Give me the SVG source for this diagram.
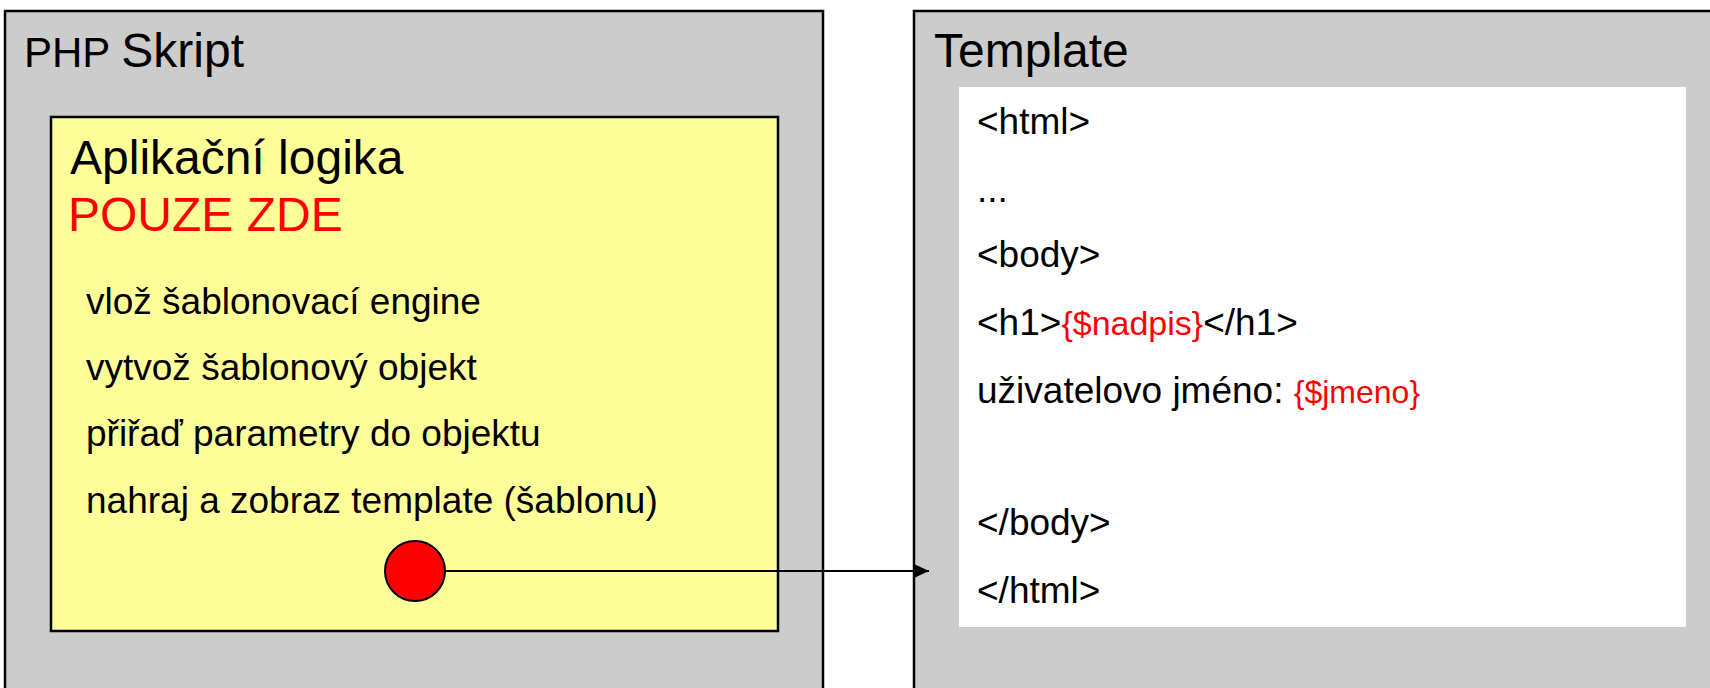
<svg xmlns="http://www.w3.org/2000/svg" width="1710" height="688" viewBox="0 0 1710 688">
<style>
text{font-family:"Liberation Sans",Arial,sans-serif;fill:#000}
.panel{fill:#CCCCCC;stroke:#000;stroke-width:2.5}
.t48{font-size:48px}
.b37{font-size:37px}
.red{fill:#FF0000}
.conn{stroke:#000;stroke-width:2;fill:none}
</style>
<defs>
<marker id="arr" markerUnits="userSpaceOnUse" markerWidth="16" markerHeight="16" refX="15" refY="7" orient="auto">
<path d="M0,0 L15,7 L0,14 Z" fill="#000"/>
</marker>
</defs>
<rect width="1710" height="688" fill="#FFFFFF"/>
<g id="php-skript">
<rect class="panel" x="5" y="11" width="818" height="720"/>
<text x="24" y="67"><tspan font-size="42">PHP </tspan><tspan font-size="48">Skript</tspan></text>
</g>
<g id="aplikacni-logika">
<rect x="51" y="117" width="727" height="514" fill="#FFFF99" stroke="#000" stroke-width="2.5"/>
<text class="t48" x="70" y="174">Aplikační logika</text>
<text class="t48 red" x="68" y="231">POUZE ZDE</text>
<text class="b37" x="86" y="314">vlož šablonovací engine</text>
<text class="b37" x="86" y="380">vytvož šablonový objekt</text>
<text class="b37" x="86" y="446">přiřaď parametry do objektu</text>
<text class="b37" x="86" y="513">nahraj a zobraz template (šablonu)</text>
</g>
<g id="template">
<rect class="panel" x="914" y="11" width="830" height="720"/>
<text class="t48" x="934" y="67">Template</text>
<rect x="959" y="87" width="727" height="540" fill="#FFFFFF"/>
<text class="b37" x="977" y="134">&lt;html&gt;</text>
<text class="b37" x="977" y="202">...</text>
<text class="b37" x="977" y="267">&lt;body&gt;</text>
<text class="b37" x="977" y="335">&lt;h1&gt;<tspan class="red" font-size="34">{$nadpis}</tspan>&lt;/h1&gt;</text>
<text class="b37" x="977" y="403">uživatelovo jméno: <tspan class="red" font-size="32">{$jmeno}</tspan></text>
<text class="b37" x="977" y="535">&lt;/body&gt;</text>
<text class="b37" x="977" y="603">&lt;/html&gt;</text>
</g>
<g id="connectors">
<line class="conn" x1="445" y1="571" x2="929" y2="571" marker-end="url(#arr)"/>
</g>
<g id="start-dot">
<circle cx="415" cy="571" r="30" fill="#FF0000" stroke="#000" stroke-width="2"/>
</g>
</svg>
